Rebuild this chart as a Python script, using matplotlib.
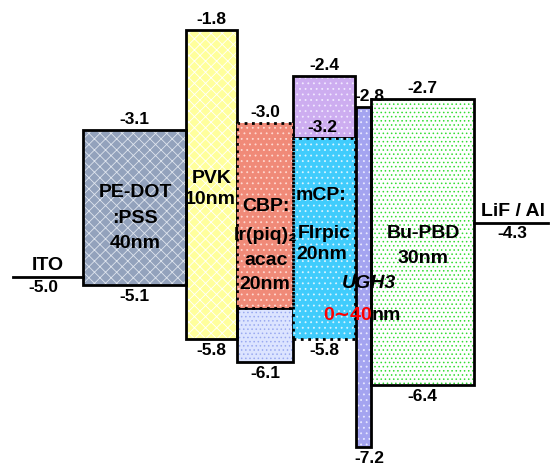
import matplotlib.pyplot as plt
from matplotlib.patches import Rectangle

plt.rcParams['font.family'] = ['Liberation Sans', 'DejaVu Sans']
plt.rcParams['font.weight'] = 'bold'
plt.rcParams['hatch.linewidth'] = 0.6

# layers: name, lumo, homo
layers = ['PEDOT', 'PVK', 'CBP', 'mCP', 'UGH3', 'BuPBD']
lumo = [-3.1, -1.8, -3.0, -2.4, -2.8, -2.7]
homo = [-5.1, -5.8, -6.1, -5.8, -7.2, -6.4]
lumo_text = ['-3.1', '-1.8', '-3.0', '-2.4', '-2.8', '-2.7']
homo_text = ['-5.1', '-5.8', '-6.1', '-5.8', '-7.2', '-6.4']

# electrodes
ito_level = -5.0
lif_level = -4.3
cbp_dopant_bottom = -5.4
mcp_dopant_top = -3.2

x_left = [83, 186, 237, 293, 356, 371]
x_right = [186, 237, 293, 355, 371, 474]
face = ['#93a2bc', '#ffff9c', '#f08a78', '#cdadf0', '#a4a4f0', '#ffffff']
hatch_col = ['#dfe5ee', '#ffffff', '#ffd8d0', '#f0e8ff', '#e8e8ff', '#33dd33']
hatches = ['xxx', 'xxx', '...', '...', '...', '....']

fig = plt.figure(figsize=(5.5, 4.7), dpi=100)
ax = fig.add_axes([0, 0, 1, 1])
ax.set_xlim(0, 550)
ax.set_ylim(-7.5, -1.411)
ax.axis('off')


def box(x0, x1, top, bot, fc, hc, hatch, ls='-', z=2):
    ax.add_patch(Rectangle((x0, bot), x1 - x0, top - bot, facecolor=fc,
                           edgecolor=hc, hatch=hatch, linewidth=0, zorder=z))
    ax.add_patch(Rectangle((x0, bot), x1 - x0, top - bot, facecolor='none',
                           edgecolor='black', linewidth=2, linestyle=ls, zorder=z + 1))


for i, name in enumerate(layers):
    x0, x1 = x_left[i], x_right[i]
    if name == 'CBP':
        box(x0, x1, cbp_dopant_bottom, homo[i], '#dce4ff', '#9aaaf0', '....')
        box(x0, x1, lumo[i], cbp_dopant_bottom, face[i], hatch_col[i], hatches[i], ls=':', z=4)
    elif name == 'mCP':
        box(x0, x1, lumo[i], mcp_dopant_top, face[i], hatch_col[i], hatches[i])
        box(x0, x1, mcp_dopant_top, homo[i], '#40ccfc', '#d8f4ff', '...', ls=':', z=4)
    else:
        box(x0, x1, lumo[i], homo[i], face[i], hatch_col[i], hatches[i])

# electrode lines
ax.plot([13, 83], [ito_level, ito_level], color='black', lw=2)
ax.plot([474, 548], [lif_level, lif_level], color='black', lw=2)

fs_num = 12.5
fs_name = 14

# level labels
lumo_dx = [0, 0, 0, 0, 6, 0]
for i in range(len(layers)):
    xc = (x_left[i] + x_right[i]) / 2 + lumo_dx[i]
    ax.text(xc, lumo[i] + 0.04, lumo_text[i], ha='center', va='bottom',
            fontsize=fs_num, zorder=10)
    ax.text(xc, homo[i] - 0.05, homo_text[i], ha='center', va='top',
            fontsize=fs_num, zorder=10)
ax.text(322, mcp_dopant_top + 0.04, '-3.2', ha='center', va='bottom',
        fontsize=fs_num, zorder=10)

ax.text(48, ito_level + 0.04, 'ITO', ha='center', va='bottom', fontsize=fs_name)
ax.text(43, ito_level - 0.04, '-5.0', ha='center', va='top', fontsize=fs_num)
ax.text(513, lif_level + 0.04, 'LiF / Al', ha='center', va='bottom', fontsize=fs_name)
ax.text(512, lif_level - 0.04, '-4.3', ha='center', va='top', fontsize=fs_num)

# layer names
names = [
    (135, -3.91, 'PE-DOT'), (135, -4.24, ':PSS'), (135, -4.56, '40nm'),
    (212, -3.72, 'PVK'), (210, -4.0, '10nm'),
    (266, -4.09, 'CBP:'), (266, -4.46, 'Ir(piq)₂'), (266, -4.78, 'acac'),
    (265, -5.10, '20nm'),
    (321, -3.95, 'mCP:'), (324, -4.43, 'FIrpic'), (322, -4.71, '20nm'),
    (423, -4.43, 'Bu-PBD'), (423, -4.76, '30nm'),
]
for x, y, s in names:
    ax.text(x, y, s, ha='center', va='center', fontsize=fs_name, zorder=10)

ax.text(369, -5.08, 'UGH3', ha='center', va='center', fontsize=fs_name,
        style='italic', zorder=10)
ax.text(372, -5.50, '0∼40', ha='right', va='center', fontsize=fs_name,
        color='red', zorder=10)
ax.text(372, -5.50, 'nm', ha='left', va='center', fontsize=fs_name, zorder=10)

fig.savefig('out.png', dpi=100)
